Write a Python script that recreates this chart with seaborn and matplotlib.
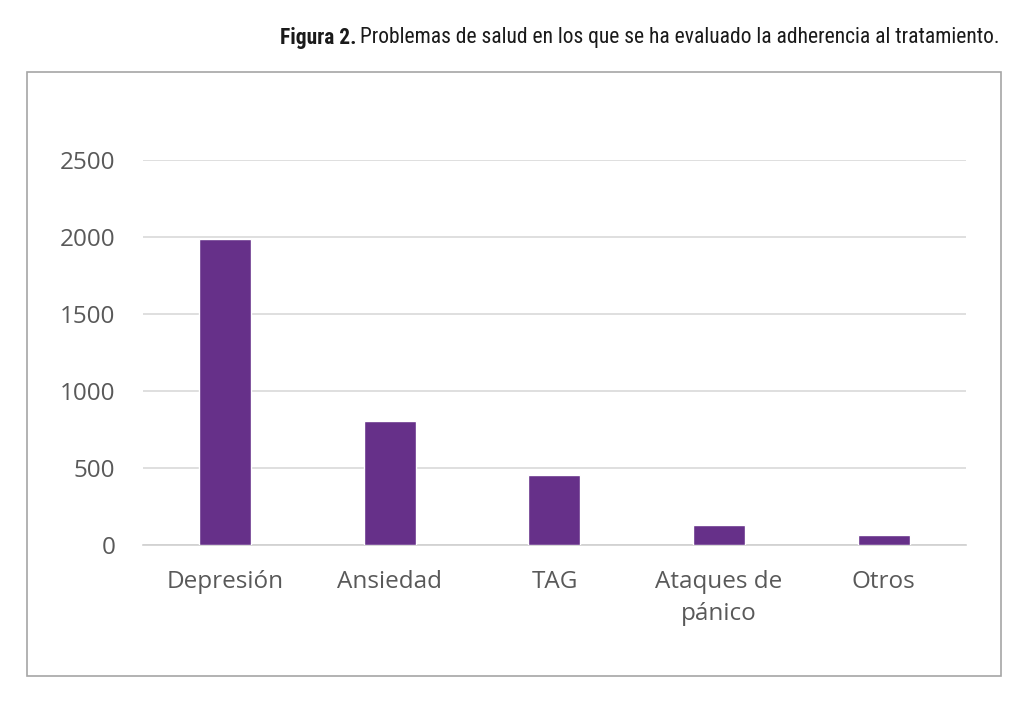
import matplotlib
matplotlib.use("Agg")
import matplotlib.pyplot as plt
import seaborn as sns
import pandas as pd
from matplotlib.patches import Rectangle

categorias = ["Depresión", "Ansiedad", "TAG", "Ataques de\npánico", "Otros"]
valores = [1985, 808, 455, 128, 65]
yticks = [0, 500, 1000, 1500, 2000, 2500]

df = pd.DataFrame({"cat": categorias, "n": valores})

sns.set_theme(style="white")
plt.rcParams["font.family"] = ["Open Sans", "DejaVu Sans"]

fig = plt.figure(figsize=(10.24, 7.01), dpi=100)
ax = fig.add_axes([0.1396, 0.2225, 0.8037, 0.5493])

sns.barplot(data=df, x="cat", y="n", color="#663089", width=0.316,
            saturation=1, ax=ax, zorder=3)

ax.set_ylim(0, 2500)
ax.set_yticks(yticks)
ax.yaxis.grid(True, color="#d9d9d9", linewidth=1.2, zorder=0)
ax.set_axisbelow(True)
for s in ["top", "right", "left"]:
    ax.spines[s].set_visible(False)
ax.spines["bottom"].set_color("#d0d0d0")
ax.spines["bottom"].set_linewidth(1.2)
ax.set_xlabel("")
ax.set_ylabel("")
ax.tick_params(axis="both", length=0, labelsize=17.5, labelcolor="#595959")
ax.tick_params(axis="y", pad=20)
ax.tick_params(axis="x", pad=18)
for lab in ax.get_xticklabels():
    lab.set_linespacing(1.45)

# marco exterior
fig.patches.append(Rectangle((27 / 1024, 1 - 676 / 701), 974 / 1024, 604 / 701,
                             transform=fig.transFigure, fill=False,
                             edgecolor="#a6a6a6", linewidth=1.2))

# titulo: parte en negrita + resto normal, alineado a la derecha
fam = ["Roboto Condensed", "Roboto", "DejaVu Sans"]
t2 = fig.text(1000 / 1024, 1 - 38 / 701,
              "Problemas de salud en los que se ha evaluado la adherencia al tratamiento.",
              ha="right", va="center", fontsize=15.5, color="#1a1a1a", family=fam)
fig.canvas.draw()
bb = t2.get_window_extent()
fig.text(bb.x0 / fig.bbox.width - 0.004, 1 - 38 / 701, "Figura 2.", ha="right",
         va="center", fontsize=15.5, fontweight="bold", color="#1a1a1a", family=fam)

fig.savefig("out.png", dpi=100)
